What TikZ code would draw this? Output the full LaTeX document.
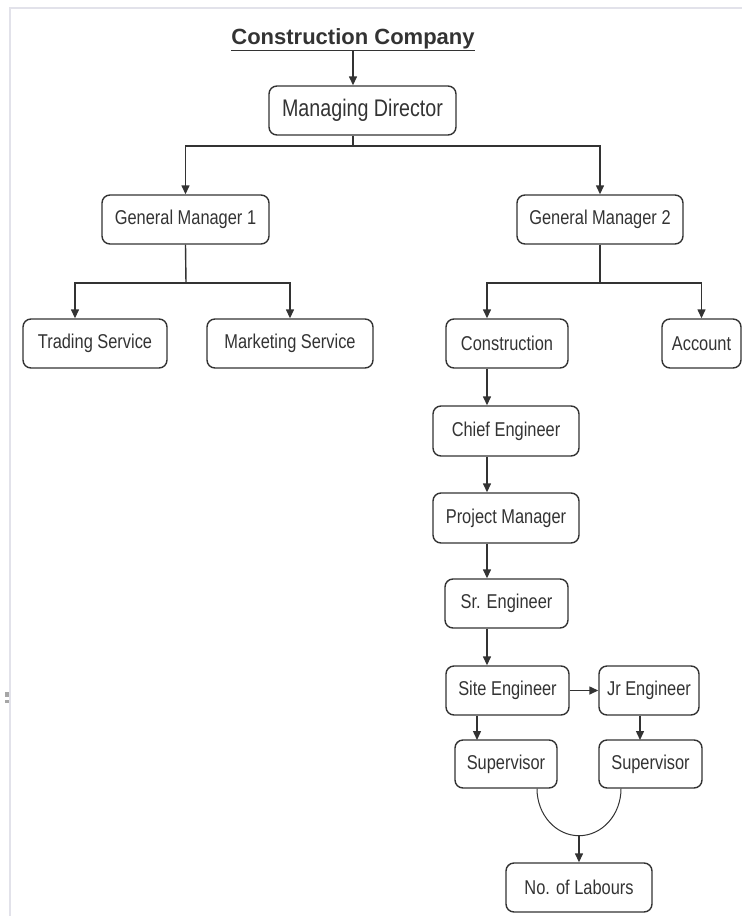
\documentclass[tikz,border=0pt]{standalone}
\usepackage{fontspec}
\setmainfont{Liberation Sans}
\newfontfamily\boxfont{Liberation Sans}[FakeStretch=0.82]
\usetikzlibrary{arrows.meta,calc}
\definecolor{ink}{HTML}{333333}
\definecolor{frame}{HTML}{E2E2EA}
\newcommand{\thickul}[1]{\underline{#1}}
\tikzset{
  orgbox/.style={draw=ink, line width=1.4pt, rounded corners=8pt, inner sep=0pt,
    minimum height=49pt, text=ink, font=\boxfont\fontsize{20}{24}\selectfont},
  link/.style={draw=ink, line width=1.4pt},
  arr/.style={link, -{Triangle[length=9pt,width=8pt]}}
}
\begin{document}
\begin{tikzpicture}[x=1pt,y=-1pt]
\useasboundingbox (0,0) rectangle (742,916);
% faint page frame
\draw[frame, line width=2pt] (10,916) -- (10,8) -- (742,8);
\fill[gray!70] (5,692) rectangle (9,697);
\fill[gray!70] (5,700) rectangle (9,703);

% title
\node[inner sep=0pt, text=ink, font=\bfseries\fontsize{22}{26}\selectfont] (title) at (353,40) {\setlength{\fboxrule}{0pt}\thickul{Construction Company}};

% boxes
\node[orgbox, minimum width=187pt, minimum height=49pt, font=\boxfont\fontsize{24}{28}\selectfont] (MD) at (362.5,110.5) {Managing Director};
\node[orgbox, minimum width=167pt] (GM1) at (185.5,219.5) {General Manager 1};
\node[orgbox, minimum width=166pt] (GM2) at (600,219.5) {General Manager 2};
\node[orgbox, minimum width=144pt] (TS) at (95,343.5) {Trading Service};
\node[orgbox, minimum width=166pt] (MS) at (290,343.5) {Marketing Service};
\node[orgbox, minimum width=122pt] (Con) at (507,343.5) {Construction};
\node[orgbox, minimum width=79pt] (Acc) at (701.5,343.5) {Account};
\node[orgbox, minimum width=146pt, minimum height=50pt] (CE) at (506,431) {Chief Engineer};
\node[orgbox, minimum width=146pt, minimum height=50pt] (PM) at (506,518) {Project Manager};
\node[orgbox, minimum width=123pt] (SrE) at (506.5,603.5) {Sr. Engineer};
\node[orgbox, minimum width=123pt] (SiteE) at (507.5,690.5) {Site Engineer};
\node[orgbox, minimum width=100pt] (JrE) at (649,690.5) {Jr Engineer};
\node[orgbox, minimum width=102pt, minimum height=48pt] (Sup1) at (506,764) {Supervisor};
\node[orgbox, minimum width=103pt, minimum height=48pt] (Sup2) at (650.5,764) {Supervisor};
\node[orgbox, minimum width=146pt] (NoL) at (579,887.5) {No. of Labours};

% junction coordinates
\coordinate (b1) at (353,146);
\coordinate (b2) at (186,283);
\coordinate (t2) at (75,283);
\coordinate (b3) at (600,283);
\coordinate (t3) at (487,283);
\coordinate (t4) at (477,740);
\coordinate (t5) at (640,740);
\coordinate (arcb) at (579,835);

% connectors
\draw[arr] (b1 |- title.south) -- (b1 |- MD.north);
\draw[link] (b1 |- MD.south) -- (b1);
\draw[arr] (b1) -| (GM1.north);
\draw[arr] (b1) -| (GM2.north);

\draw[link] (GM1.south) -- (b2);
\draw[arr] (b2) -- (t2) -- (t2 |- TS.north);
\draw[arr] (b2) -| (MS.north);

\draw[link] (GM2.south) -- (b3);
\draw[arr] (b3) -- (t3) -- (t3 |- Con.north);
\draw[arr] (b3) -| (Acc.north);

\draw[arr] (t3 |- Con.south) -- (t3 |- CE.north);
\draw[arr] (t3 |- CE.south) -- (t3 |- PM.north);
\draw[arr] (t3 |- PM.south) -- (t3 |- SrE.north);
\draw[arr] (t3 |- SrE.south) -- (t3 |- SiteE.north);

\draw[arr] (SiteE.east) -- (JrE.west);
\draw[arr] (t4 |- SiteE.south) -- (t4);
\draw[arr] (t5 |- JrE.south) -- (t5);

\draw[link, line width=1pt] ($(Sup1.south)+(31,0)$) arc[start angle=180, end angle=0, x radius=42, y radius=47];
\draw[arr] (arcb) -- (NoL.north);
\end{tikzpicture}
\end{document}
